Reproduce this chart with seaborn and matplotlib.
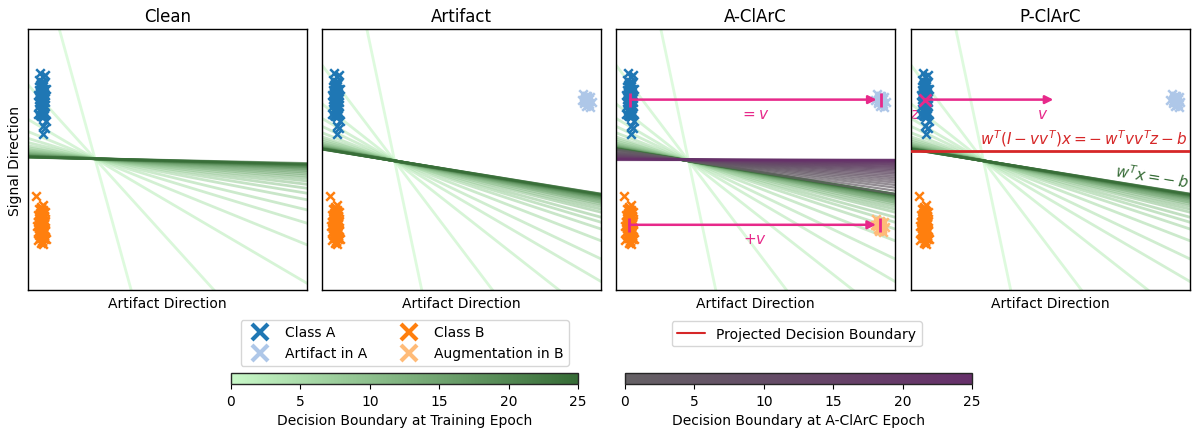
import numpy as np
import pandas as pd
import matplotlib
matplotlib.use("Agg")
import matplotlib.pyplot as plt
import seaborn as sns
from matplotlib.colors import LinearSegmentedColormap, Normalize
from matplotlib.cm import ScalarMappable
from matplotlib.lines import Line2D

# Punktwolken (Datenkoordinaten: x = Artefakt-Richtung, y = Signal-Richtung)
class_a_x = [0.44, 0.52, 0.61, 0.38, 0.49, 0.57, 0.42, 0.55, 0.47, 0.63, 0.40, 0.51, 0.58, 0.45,
             0.36, 0.54, 0.48, 0.60, 0.43, 0.50, 0.56, 0.39, 0.53, 0.46, 0.59, 0.41, 0.52, 0.48,
             0.55, 0.44, 0.50, 0.62, 0.37, 0.57, 0.47, 0.53, 0.42, 0.58, 0.49, 0.66, 0.52, 0.60, 0.55,
             0.47, 0.53, 0.43, 0.58, 0.50, 0.45, 0.55, 0.40, 0.52, 0.48, 0.60, 0.44, 0.51, 0.56,
             0.46, 0.49, 0.54, 0.42, 0.57, 0.50]
class_a_y = [3.30, 3.18, 3.22, 3.05, 2.98, 2.92, 2.85, 2.80, 2.74, 2.70, 2.65, 2.60, 2.55, 2.52,
             2.48, 2.44, 2.40, 2.37, 2.33, 2.30, 2.26, 2.22, 2.18, 2.15, 2.10, 2.06, 2.02, 1.98,
             1.93, 1.88, 1.84, 1.80, 1.76, 1.72, 1.68, 1.64, 2.58, 2.46, 2.12, 1.47, 1.30, 1.22, 0.98,
             2.95, 2.88, 2.76, 2.68, 2.62, 2.56, 2.50, 2.42, 2.35, 2.28, 2.20, 2.13, 2.07, 2.00,
             1.95, 1.86, 1.78, 1.70, 2.72, 2.40]
class_b_x = [0.28, 0.55, 0.45, 0.38, 0.52, 0.60, 0.42, 0.48, 0.35, 0.57, 0.46, 0.40, 0.53, 0.62,
             0.37, 0.50, 0.44, 0.58, 0.33, 0.49, 0.55, 0.41, 0.47, 0.61, 0.36, 0.52, 0.45, 0.39,
             0.56, 0.48, 0.43, 0.59, 0.34, 0.51, 0.46, 0.40, 0.54, 0.64, 0.47, 0.42,
             0.47, 0.53, 0.43, 0.58, 0.50, 0.45, 0.55, 0.40, 0.52, 0.48, 0.60, 0.44, 0.51, 0.56,
             0.46, 0.49, 0.54, 0.42, 0.57, 0.50]
class_b_y = [-1.40, -1.75, -1.82, -1.90, -1.95, -2.00, -2.05, -2.10, -2.14, -2.18, -2.22, -2.26,
             -2.30, -2.34, -2.38, -2.42, -2.45, -2.49, -2.53, -2.57, -2.60, -2.64, -2.68, -2.72,
             -2.76, -2.80, -2.84, -2.88, -2.92, -2.96, -3.00, -3.05, -3.10, -3.15, -3.20, -2.35,
             -2.55, -3.05, -2.20, -2.70,
             -1.85, -1.98, -2.08, -2.16, -2.24, -2.32, -2.40, -2.47, -2.55, -2.62, -2.70, -2.78,
             -2.86, -2.94, -3.02, -3.12, -3.22, -2.28, -2.44, -2.66]
artifact_x = [9.35, 9.50, 9.62, 9.42, 9.56, 9.30, 9.48, 9.66, 9.40, 9.53, 9.45, 9.60, 9.38, 9.51,
              9.57, 9.44, 9.47, 9.55]
artifact_y = [2.50, 2.45, 2.40, 2.35, 2.30, 2.28, 2.22, 2.20, 2.15, 2.10, 2.05, 2.02, 2.25, 2.38,
              2.12, 2.32, 2.42, 2.18]

# Entscheidungsgrenzen je Epoche: Steigung, Geraden laufen durch einen Drehpunkt
epochs = list(range(26))
clean_slopes = [-3.88, -1.18, -0.628, -0.434, -0.325, -0.258, -0.207, -0.174, -0.149, -0.129,
                -0.112, -0.098, -0.087, -0.077, -0.068, -0.060, -0.053, -0.048, -0.043, -0.040,
                -0.036, -0.033, -0.031, -0.029, -0.027, -0.024]
clean_pivot = (2.4, 0.03)
artifact_slopes = [-5.08, -1.41, -0.84, -0.625, -0.508, -0.414, -0.353, -0.318, -0.292, -0.266,
                   -0.250, -0.235, -0.223, -0.215, -0.208, -0.201, -0.196, -0.191, -0.188, -0.184,
                   -0.181, -0.179, -0.177, -0.175, -0.173, -0.172]
artifact_pivot = (2.6, -0.05)
aclarc_slopes = [-0.172, -0.155, -0.140, -0.127, -0.115, -0.104, -0.094, -0.085, -0.076, -0.068,
                 -0.061, -0.054, -0.048, -0.042, -0.037, -0.032, -0.027, -0.023, -0.019, -0.015,
                 -0.012, -0.009, -0.006, -0.004, -0.002, 0.0]
aclarc_pivot = (2.3, 0.0)
pclarc_v_length = 4.6

titles = ['Clean', 'Artifact', 'A-ClArC', 'P-ClArC']

# Farben
train_cmap = LinearSegmentedColormap.from_list('train', ['#c8f8c8', '#356b35'])
aclarc_cmap = LinearSegmentedColormap.from_list('aclarc', ['#656165', '#66306a'])
pink = '#e7298a'
col_a, col_art = '#1f77b4', '#aec7e8'
col_b, col_aug = '#ff7f0e', '#ffbb78'
red = '#d62728'

sns.set_style('white')
plt.rcParams['font.family'] = ['DejaVu Sans']
plt.rcParams['text.color'] = 'black'
plt.rcParams['axes.labelcolor'] = 'black'
plt.rcParams['xtick.color'] = 'black'

mean_a = (np.mean(class_a_x), np.mean(class_a_y))
mean_b = (np.mean(class_b_x), np.mean(class_b_y))
mean_art = (np.mean(artifact_x), np.mean(artifact_y))
v = (mean_art[0] - mean_a[0], mean_art[1] - mean_a[1])
aug_x = [x + mean_b[0] - mean_a[0] for x in artifact_x]
aug_y = [y + mean_b[1] - mean_a[1] for y in artifact_y]


def boundary_frame(slopes, pivot):
    rows = []
    for ep, m in zip(epochs, slopes):
        for x in (-1.0, 11.0):
            rows.append({'epoch': ep, 'x': x, 'y': pivot[1] + m * (x - pivot[0])})
    return pd.DataFrame(rows)


def draw_boundaries(ax, slopes, pivot, cmap, lw=2, alpha=0.6):
    sns.lineplot(data=boundary_frame(slopes, pivot), x='x', y='y', hue='epoch', units='epoch',
                 estimator=None, sort=False, palette=cmap, hue_norm=(0, 25), legend=False,
                 lw=lw, alpha=alpha, ax=ax)


def draw_points(ax, xs, ys, color):
    sns.scatterplot(x=xs, y=ys, marker='x', color=color, s=38, linewidth=1.8, ax=ax, zorder=3)


fig = plt.figure(figsize=(11.98, 4.31), dpi=100)
lefts = [0.0234, 0.2688, 0.5142, 0.7604]
axes = [fig.add_axes([l, 0.3248, 0.2329, 0.6056]) for l in lefts]

for i, ax in enumerate(axes):
    if i == 0:
        draw_boundaries(ax, clean_slopes, clean_pivot, train_cmap)
    else:
        draw_boundaries(ax, artifact_slopes, artifact_pivot, train_cmap)
    draw_points(ax, class_a_x, class_a_y, col_a)
    draw_points(ax, class_b_x, class_b_y, col_b)
    if i > 0:
        draw_points(ax, artifact_x, artifact_y, col_art)

# A-ClArC: Verschiebung um v
ax = axes[2]
draw_boundaries(ax, aclarc_slopes, aclarc_pivot, aclarc_cmap, lw=1.6, alpha=0.7)
draw_points(ax, aug_x, aug_y, col_aug)
for start, label in [(mean_a, '$= v$'), (mean_b, '$+ v$')]:
    end = (start[0] + v[0], start[1])
    ax.annotate('', xy=end, xytext=start, zorder=5,
                arrowprops=dict(arrowstyle='-|>', color=pink, lw=1.8, shrinkA=0, shrinkB=3,
                                mutation_scale=12))
    ax.plot([start[0], end[0]], [start[1], start[1]], ls='none', marker='|', ms=10, mew=2,
            color=pink, zorder=5)
    ax.text((start[0] + end[0]) / 2, start[1] - 0.25, label, color=pink, fontsize=11,
            ha='center', va='top')

# P-ClArC: Projektion
ax = axes[3]
z = mean_a
ax.annotate('', xy=(z[0] + pclarc_v_length, z[1]), xytext=z, zorder=5,
            arrowprops=dict(arrowstyle='-|>', color=pink, lw=1.8, shrinkA=0, shrinkB=0,
                            mutation_scale=12))
ax.plot([z[0]], [z[1]], ls='none', marker='x', ms=8, mew=2, color=pink, zorder=6)
ax.text(z[0] + pclarc_v_length - 0.4, z[1] - 0.25, '$v$', color=pink, fontsize=11,
        ha='center', va='top')
ax.text(z[0] - 0.35, z[1] - 0.25, '$z$', color=pink, fontsize=11, ha='center', va='top', zorder=1)
proj_y = artifact_pivot[1] + artifact_slopes[-1] * (z[0] - artifact_pivot[0])
ax.axhline(proj_y, color=red, lw=2, zorder=4)
ax.text(9.9, proj_y + 0.12, r'$w^T(I - vv^T)x = -\,w^Tvv^Tz - b$', color=red, fontsize=11,
        ha='right', va='bottom')
end_y = artifact_pivot[1] + artifact_slopes[-1] * (9.9 - artifact_pivot[0])
ax.text(9.9, end_y + 0.1, r'$w^Tx = -\,b$', color=train_cmap(1.0), fontsize=11,
        ha='right', va='bottom', rotation=-9, rotation_mode='anchor')

for i, ax in enumerate(axes):
    ax.set_xlim(0, 10)
    ax.set_ylim(-5, 5)
    ax.set_xticks([])
    ax.set_yticks([])
    ax.set_title(titles[i], fontsize=12)
    ax.set_xlabel('Artifact Direction', fontsize=10)
    ax.set_ylabel('Signal Direction' if i == 0 else '', fontsize=10)
    for s in ax.spines.values():
        s.set_color('black')
        s.set_linewidth(1.0)

# Legenden
handles = [
    Line2D([], [], ls='none', marker='x', ms=11, mew=3, color=col_a),
    Line2D([], [], ls='none', marker='x', ms=11, mew=3, color=col_art),
    Line2D([], [], ls='none', marker='x', ms=11, mew=3, color=col_b),
    Line2D([], [], ls='none', marker='x', ms=11, mew=3, color=col_aug),
]
labels = ['Class A', 'Artifact in A', 'Class B', 'Augmentation in B']
fig.legend(handles, labels, ncol=2, loc='center', bbox_to_anchor=(0.338, 0.202), fontsize=10)
fig.legend([Line2D([], [], color=red, lw=1.5)], ['Projected Decision Boundary'], loc='center',
           bbox_to_anchor=(0.665, 0.223), fontsize=10)

# Farbskalen
for left, cmap, label in [(0.1928, train_cmap, 'Decision Boundary at Training Epoch'),
                          (0.5217, aclarc_cmap, 'Decision Boundary at A-ClArC Epoch')]:
    cax = fig.add_axes([left, 0.1067, 0.2897, 0.0255])
    cb = fig.colorbar(ScalarMappable(norm=Normalize(0, 25), cmap=cmap), cax=cax,
                      orientation='horizontal')
    cb.set_ticks([0, 5, 10, 15, 20, 25])
    cb.ax.tick_params(labelsize=10, length=3.5, bottom=True, width=0.8)
    cb.set_label(label, fontsize=10)
    cb.outline.set_linewidth(1.0)

fig.savefig('out.png', dpi=100)
